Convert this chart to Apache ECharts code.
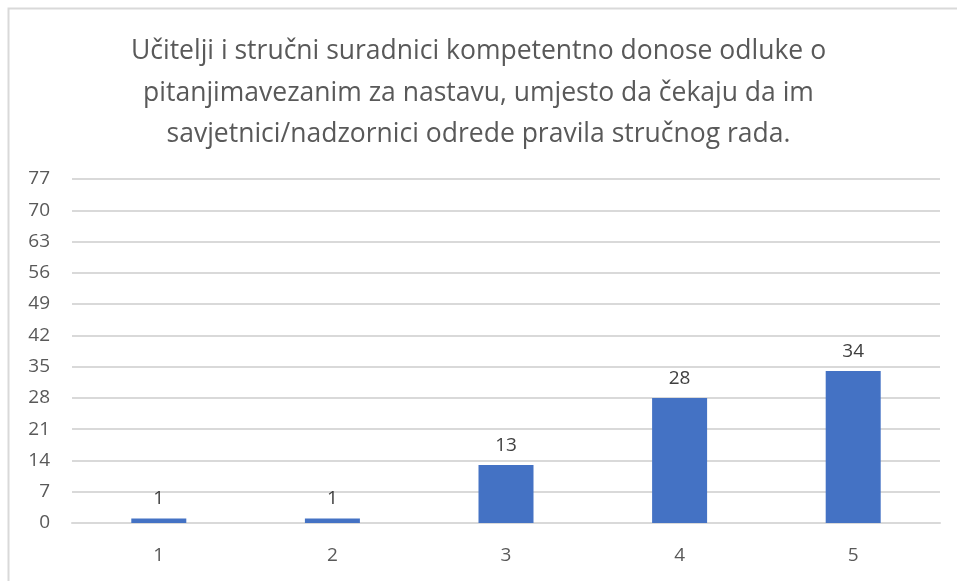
<!DOCTYPE html>
<html>
<head>
<meta charset="utf-8">
<script src="https://cdn.jsdelivr.net/npm/echarts@6/dist/echarts.min.js"></script>
<style>
  html, body { margin: 0; padding: 0; background: #fff; }
  #chart { width: 957px; height: 581px; }
</style>
</head>
<body>
<div id="chart"></div>
<script>
const titleLines = [
  "Učitelji i stručni suradnici kompetentno donose odluke o",
  "pitanjimavezanim za nastavu, umjesto da čekaju da im",
  "savjetnici/nadzornici odrede pravila stručnog rada."
];
const categories = ["1", "2", "3", "4", "5"];
const values = [1, 1, 13, 28, 34];

const chart = echarts.init(document.getElementById("chart"));
const font = "'Open Sans', 'Noto Sans', sans-serif";

chart.setOption({
  animation: false,
  textStyle: { fontFamily: font },
  graphic: [{
    type: "rect",
    shape: { x: 8.5, y: 8.5, width: 1200, height: 1200 },
    style: { fill: "none", stroke: "#d9d9d9", lineWidth: 2 },
    silent: true
  }],
  title: {
    text: titleLines.join("\n"),
    left: "center",
    top: 26,
    textStyle: {
      fontFamily: font,
      fontSize: 26.5,
      fontWeight: "normal",
      color: "#595959",
      lineHeight: 41.5
    }
  },
  grid: { left: 72, right: 17, top: 179, bottom: 58 },
  xAxis: {
    type: "category",
    data: categories,
    axisLine: { lineStyle: { color: "#d9d9d9", width: 2 } },
    axisTick: { show: false },
    axisLabel: { color: "#595959", fontSize: 19, margin: 23 }
  },
  yAxis: {
    type: "value",
    min: 0,
    max: 77,
    interval: 7,
    axisLine: { show: false },
    axisTick: { show: false },
    axisLabel: { color: "#595959", fontSize: 19, margin: 22 },
    splitLine: { lineStyle: { color: "#d9d9d9", width: 2 } }
  },
  series: [{
    type: "bar",
    data: values,
    barWidth: 55,
    itemStyle: { color: "#4472c4" },
    label: {
      show: true,
      position: "top",
      distance: 10,
      color: "#404040",
      fontSize: 19
    }
  }]
});
</script>
</body>
</html>
